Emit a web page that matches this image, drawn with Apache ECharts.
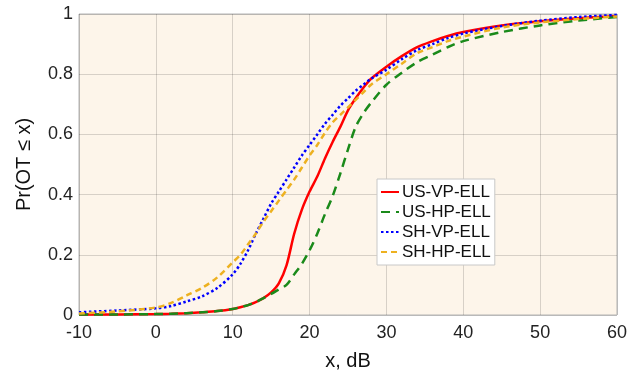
<!DOCTYPE html>
<html>
<head>
<meta charset="utf-8">
<script src="https://cdn.jsdelivr.net/npm/echarts@6/dist/echarts.min.js"></script>
<style>
  html, body { margin: 0; padding: 0; background: #fff; }
  #chart { width: 630px; height: 376px; }
</style>
</head>
<body>
<div id="chart"></div>
<script>
// x, dB sample points shared by all curves
const xs = [-10, -5, 0, 2, 4, 6, 8, 10, 11, 12, 13, 14, 15, 16, 17, 18, 19, 20, 21, 22, 23, 24, 25, 26, 27, 28, 30, 32, 34, 36, 38, 40, 45, 50, 55, 60];

const usVP = [0.002, 0.002, 0.003, 0.004, 0.006, 0.009, 0.013, 0.02, 0.026, 0.033, 0.043, 0.056, 0.075, 0.105, 0.165, 0.27, 0.35, 0.41, 0.46, 0.52, 0.575, 0.625, 0.68, 0.72, 0.755, 0.785, 0.825, 0.86, 0.89, 0.91, 0.927, 0.94, 0.962, 0.976, 0.986, 0.993];
const usHP = [0.002, 0.002, 0.003, 0.004, 0.006, 0.009, 0.013, 0.02, 0.026, 0.033, 0.043, 0.056, 0.07, 0.085, 0.10, 0.135, 0.17, 0.215, 0.27, 0.335, 0.395, 0.47, 0.55, 0.625, 0.67, 0.705, 0.765, 0.805, 0.84, 0.865, 0.89, 0.91, 0.94, 0.962, 0.978, 0.99];
const shVP = [0.009, 0.015, 0.022, 0.03, 0.045, 0.062, 0.09, 0.135, 0.17, 0.215, 0.27, 0.32, 0.37, 0.41, 0.45, 0.49, 0.53, 0.565, 0.60, 0.635, 0.665, 0.695, 0.72, 0.745, 0.765, 0.785, 0.815, 0.85, 0.88, 0.90, 0.92, 0.935, 0.96, 0.978, 0.99, 0.997];
const shHP = [0.005, 0.012, 0.025, 0.04, 0.065, 0.09, 0.125, 0.175, 0.2, 0.235, 0.27, 0.31, 0.345, 0.38, 0.415, 0.45, 0.49, 0.53, 0.565, 0.605, 0.64, 0.665, 0.69, 0.715, 0.74, 0.765, 0.80, 0.835, 0.87, 0.89, 0.91, 0.925, 0.955, 0.972, 0.983, 0.992];

const names = ['US-VP-ELL', 'US-HP-ELL', 'SH-VP-ELL', 'SH-HP-ELL'];
const colors = ['#ff0000', '#1a8a1a', '#0000ff', '#edb120'];
const dashes = ['solid', [9, 6], [2.5, 2.5], [6, 4]];

const font = 'Liberation Sans, Arial, Helvetica, sans-serif';
const pair = vals => xs.map((x, i) => [x, vals[i]]);

let chart = echarts.init(document.getElementById('chart'));
chart.setOption({
    animation: false,
    grid: {
        left: 79,
        right: 12,
        top: 14,
        bottom: 59,
        show: true,
        backgroundColor: '#fdf5ea',
        borderColor: '#b5b5b5',
        borderWidth: 1
    },
    legend: {
        orient: 'vertical',
        left: 377,
        top: 179,
        data: names,
        backgroundColor: '#fff',
        borderColor: '#c8c8c8',
        borderWidth: 1,
        borderRadius: 0,
        padding: [3, 4, 3, 3],
        itemWidth: 18,
        itemHeight: 14,
        itemGap: 0,
        itemStyle: { opacity: 0 },
        textStyle: {
            fontFamily: font,
            fontSize: 17,
            color: '#111',
            lineHeight: 20,
            padding: [0, 0, 0, -2]
        }
    },
    xAxis: {
        type: 'value',
        min: -10,
        max: 60,
        interval: 10,
        name: 'x, dB',
        nameLocation: 'middle',
        nameGap: 36,
        nameTextStyle: { fontFamily: font, fontSize: 20, color: '#111' },
        axisLine: { show: false },
        axisTick: { show: false },
        axisLabel: { fontFamily: font, fontSize: 18, color: '#222', margin: 9 },
        splitLine: { show: true, lineStyle: { color: 'rgba(0,0,0,0.15)', width: 1 } }
    },
    yAxis: {
        type: 'value',
        min: 0,
        max: 1,
        interval: 0.2,
        name: 'Pr(OT \u2264 x)',
        nameLocation: 'middle',
        nameGap: 45,
        nameTextStyle: { fontFamily: font, fontSize: 20, color: '#111' },
        axisLine: { show: false },
        axisTick: { show: false },
        axisLabel: { fontFamily: font, fontSize: 18, color: '#222', margin: 6 },
        splitLine: { show: true, lineStyle: { color: 'rgba(0,0,0,0.15)', width: 1 } }
    },
    series: [usVP, usHP, shVP, shHP].map((vals, i) => ({
        name: names[i],
        type: 'line',
        data: pair(vals),
        symbol: 'none',
        smooth: 0.3,
        color: colors[i],
        lineStyle: { color: colors[i], width: 2.5, type: dashes[i] }
    }))
});
</script>
</body>
</html>
